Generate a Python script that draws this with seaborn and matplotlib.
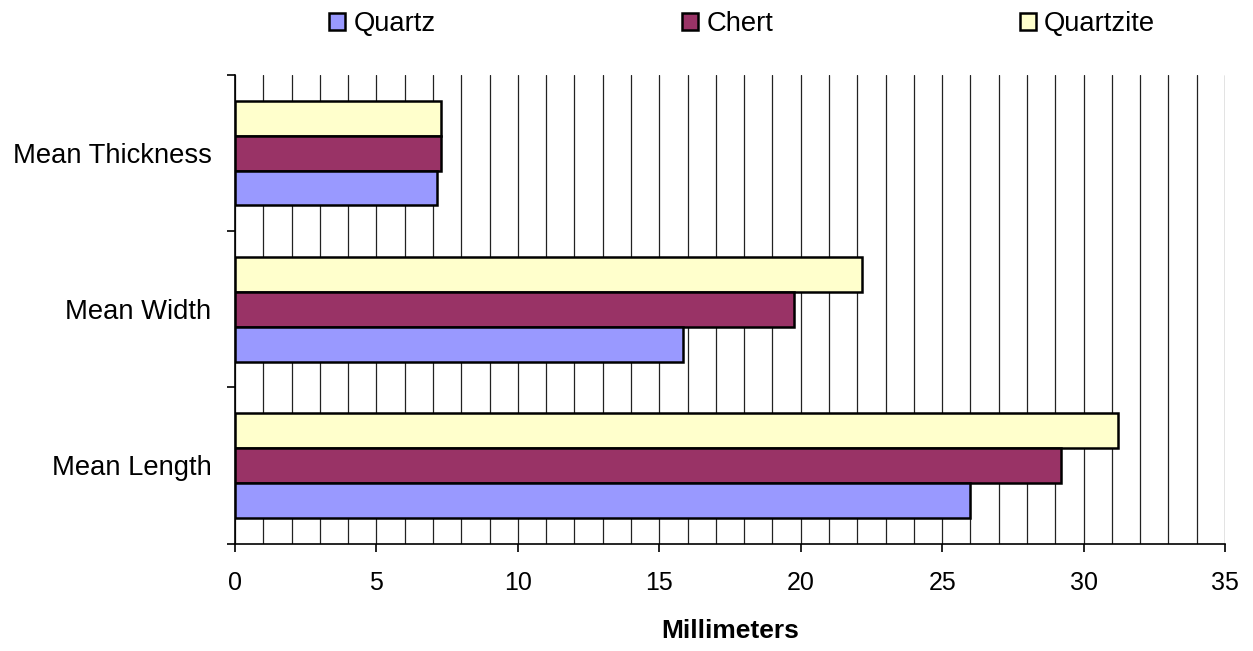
import matplotlib
matplotlib.use("Agg")
import matplotlib.pyplot as plt
import seaborn as sns
import pandas as pd
from matplotlib.ticker import MultipleLocator
from matplotlib.patches import Patch

# ---- data ----
measures = ["Mean Length", "Mean Width", "Mean Thickness"]
stones = ["Quartz", "Chert", "Quartzite"]
quartz = [26.0, 15.85, 7.14]
chert = [29.2, 19.75, 7.28]
quartzite = [31.2, 22.15, 7.28]
x_ticks = [0, 5, 10, 15, 20, 25, 30, 35]
x_label = "Millimeters"

colors = {"Quartz": "#9999FF", "Chert": "#993366", "Quartzite": "#FFFFCC"}

rows = []
for s, vals in zip(stones, [quartz, chert, quartzite]):
    for m, v in zip(measures, vals):
        rows.append({"Measure": m, "Stone": s, "mm": v})
df = pd.DataFrame(rows)

sns.set_style("white")
plt.rcParams["font.family"] = ["Liberation Sans", "DejaVu Sans"]
plt.rcParams["text.color"] = "black"
plt.rcParams["xtick.color"] = "black"
plt.rcParams["ytick.color"] = "black"
plt.rcParams["axes.labelcolor"] = "black"

fig = plt.figure(figsize=(12.53, 6.51), dpi=100)
ax = fig.add_axes([235 / 1253, 1 - 543.5 / 651, (1225 - 235) / 1253, (543.5 - 75) / 651])

display_order = ["Mean Thickness", "Mean Width", "Mean Length"]
sns.barplot(data=df, y="Measure", x="mm", hue="Stone", orient="h",
            order=display_order, hue_order=["Quartzite", "Chert", "Quartz"],
            palette=colors, width=0.67, edgecolor="black", linewidth=1.8,
            saturation=1, legend=False, ax=ax, zorder=3)

ax.set_xlim(0, 35)
ax.set_ylim(2.5, -0.5)
ax.set_xticks(x_ticks)
ax.set_xticklabels([str(t) for t in x_ticks])
ax.xaxis.set_minor_locator(MultipleLocator(1))
ax.grid(True, axis="x", which="both", color="#222222", linewidth=0.9, zorder=0)
ax.set_axisbelow(True)

ax.set_yticks([-0.5, 0.5, 1.5, 2.5])
ax.set_yticklabels([])
ax.set_yticks([0, 1, 2], minor=True)
ax.set_yticklabels(display_order, minor=True, fontsize=19.7, color="black")
ax.tick_params(axis="y", which="major", length=6, width=1.2, color="black", left=True)
ax.tick_params(axis="y", which="minor", length=0, pad=17)
ax.tick_params(axis="x", which="major", length=6, width=1.2, color="black", bottom=True,
               labelsize=18, labelcolor="black", pad=14)
ax.tick_params(axis="x", which="minor", length=0)

for s in ["top", "right"]:
    ax.spines[s].set_visible(False)
for s in ["left", "bottom"]:
    ax.spines[s].set_color("black")
    ax.spines[s].set_linewidth(1.2)

ax.set_ylabel("")
ax.set_xlabel(x_label, fontsize=19, fontweight="bold", labelpad=17, color="black")

handles = [Patch(facecolor=colors[s], edgecolor="black", linewidth=1.8, label=s) for s in stones]
fig.legend(handles=handles, loc="center", bbox_to_anchor=(742 / 1253, 1 - 24 / 651),
           ncol=3, frameon=False, fontsize=19.7, handlelength=0.6, handleheight=0.6,
           handletextpad=0.3, columnspacing=9.0, borderaxespad=0, labelcolor="black")

fig.savefig("out.png", dpi=100)
